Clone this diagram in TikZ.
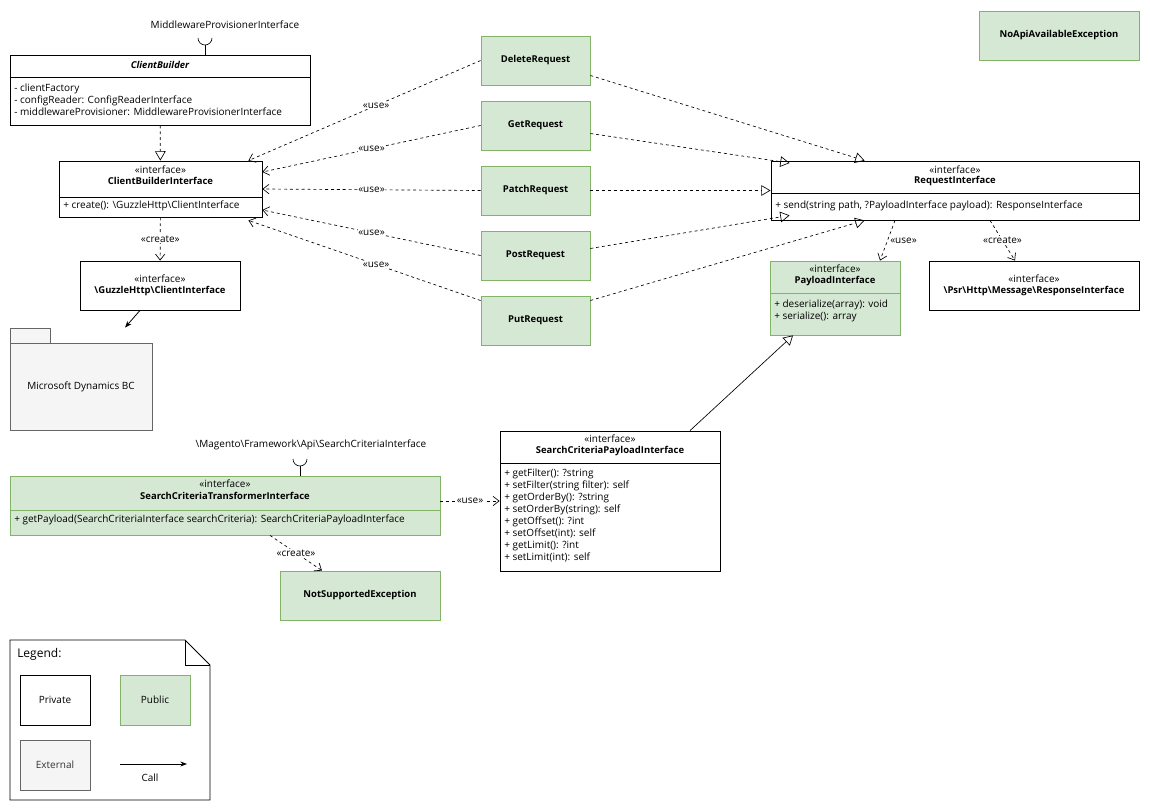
\documentclass[tikz,border=0pt]{standalone}
\usepackage{fontspec}
\setmainfont{Open Sans}
\usetikzlibrary{arrows.meta,calc,positioning}

\tikzset{
  box/.style={draw=black, fill=white, inner sep=0pt, line width=0.6pt},
  pub/.style={draw={rgb,255:red,130;green,179;blue,102}, fill={rgb,255:red,213;green,232;blue,212}, inner sep=0pt, line width=0.6pt},
  ext/.style={draw={rgb,255:red,102;green,102;blue,102}, fill={rgb,255:red,245;green,245;blue,245}, inner sep=0pt, line width=0.6pt},
  txt/.style={font=\fontsize{7.5}{9}\selectfont, inner sep=0pt},
  clsname/.style={font=\fontsize{7.1}{9}\selectfont\bfseries, inner sep=0pt},
  dep/.style={dashed, dash pattern=on 2.2pt off 2.2pt, line width=0.5pt, -{Straight Barb[length=4.5pt,width=7pt]}},
  real/.style={dashed, dash pattern=on 2.2pt off 2.2pt, line width=0.5pt, -{Triangle[open,length=7pt,width=8pt]}},
  gen/.style={line width=0.5pt, -{Triangle[open,length=7pt,width=8pt]}},
  call/.style={line width=0.6pt, -{Stealth[length=5pt]}},
  lbl/.style={txt, fill=white, inner sep=0.5pt}
}

\begin{document}
\begin{tikzpicture}[x=0.75pt,y=0.75pt,yscale=-1,xscale=1]
\useasboundingbox (0,0) rectangle (1150,810);

%Class boxes
\node[box, minimum width=225pt, minimum height=52.5pt] (cb) at (160,90) {};
\node[box, minimum width=152.25pt, minimum height=42pt] (cbi) at (160.5,189) {};
\node[box, minimum width=120pt, minimum height=36.75pt] (guz) at (160,285.5) {};
\node[box, minimum width=276pt, minimum height=44.25pt] (req) at (955,190.5) {};
\node[pub, minimum width=97.5pt, minimum height=55.5pt] (pay) at (835,298) {};
\node[box, minimum width=157.5pt, minimum height=36.75pt] (resp) at (1034,285.5) {};
\node[box, minimum width=165pt, minimum height=105pt] (scp) at (610,501) {};
\node[pub, minimum width=322.5pt, minimum height=44.25pt] (sct) at (225,505.5) {};
\node[pub, minimum width=120pt, minimum height=36.75pt, clsname] (nse) at (360,595.5) {NotSupportedException};
\node[pub, minimum width=120pt, minimum height=36.75pt, clsname] (noapi) at (1059,35.5) {NoApiAvailableException};

%Requests
\foreach \n/\t/\y in {del/DeleteRequest/60.5, get/GetRequest/125.5, pat/PatchRequest/190.5, pos/PostRequest/255.5, put/PutRequest/320.5}
  \node[pub, minimum width=81.75pt, minimum height=36.75pt, clsname] (\n) at (535.5,\y) {\t};

%Dividers
\draw[line width=0.5pt] (10,77) -- (310,77);
\draw[line width=0.4pt] (59,197) -- (262,197);
\draw[line width=0.4pt] (771,193) -- (1139,193);
\draw[line width=0.4pt,draw={rgb,255:red,130;green,179;blue,102}] (770,293) -- (900,293);
\draw[line width=0.4pt] (500,463) -- (720,463);
\draw[line width=0.4pt,draw={rgb,255:red,130;green,179;blue,102}] (10,510) -- (440,510);

%Texts
\node[txt, font=\fontsize{7.1}{9}\selectfont\bfseries\itshape] at (160,65) {ClientBuilder};
\node[txt, anchor=west, align=left] at (14,100) {- clientFactory\\- configReader: ConfigReaderInterface\\- middlewareProvisioner: MiddlewareProvisionerInterface};
\node[txt] at (160.5,170) {«interface»};
\node[clsname] at (160.5,181) {ClientBuilderInterface};
\node[txt, anchor=west] at (63,206) {+ create(): \textbackslash GuzzleHttp\textbackslash ClientInterface};
\node[txt] at (160,279) {«interface»};
\node[clsname] at (160,291) {\textbackslash GuzzleHttp\textbackslash ClientInterface};
\node[txt] at (955,170) {«interface»};
\node[clsname] at (955,181) {RequestInterface};
\node[txt, anchor=west] at (775,206) {+ send(string path, ?PayloadInterface payload): ResponseInterface};
\node[txt] at (835,269) {«interface»};
\node[clsname] at (835,281) {PayloadInterface};
\node[txt, anchor=west, align=left] at (774,311) {+ deserialize(array): void\\+ serialize(): array};
\node[txt] at (1034,279) {«interface»};
\node[clsname] at (1034,291) {\textbackslash Psr\textbackslash Http\textbackslash Message\textbackslash ResponseInterface};
\node[txt] at (610,439) {«interface»};
\node[clsname] at (610,451) {SearchCriteriaPayloadInterface};
\node[txt, anchor=north west, align=left] at (504,469) {+ getFilter(): ?string\\+ setFilter(string filter): self\\+ getOrderBy(): ?string\\+ setOrderBy(string): self\\+ getOffset(): ?int\\+ setOffset(int): self\\+ getLimit(): ?int\\+ setLimit(int): self};
\node[txt] at (225,484) {«interface»};
\node[clsname] at (225,496) {SearchCriteriaTransformerInterface};
\node[txt, anchor=west] at (14,520) {+ getPayload(SearchCriteriaInterface searchCriteria): SearchCriteriaPayloadInterface};

%External package
\draw[ext] (10,328) rectangle (50,343);
\node[ext, minimum width=106.5pt, minimum height=65.25pt, txt] (ms) at (81,386.5) {Microsoft Dynamics BC};

%Lollipops
\draw[line width=0.5pt] (205,55) -- (205,45);
\draw[line width=0.5pt] (198,38) arc (180:0:7 and 7);
\node[txt] at (225,25) {MiddlewareProvisionerInterface};
\draw[line width=0.5pt] (300,476) -- (300,466);
\draw[line width=0.5pt] (293,459) arc (180:0:7 and 7);
\node[txt] at (311,445) {\textbackslash Magento\textbackslash Framework\textbackslash Api\textbackslash SearchCriteriaInterface};

%Connectors
\draw[real] (cb) -- (cbi);
\draw[dep] (cbi) -- node[lbl] {«create»} (guz);
\draw[call] ($(guz.south)+(-20,0)$) -- ($(ms.north)+(44,-15)$);
\draw[dep] (del.west) -- node[lbl, pos=0.45] {«use»} ($(cbi.north east)+(-14,0)$);
\draw[dep] (get.west) -- node[lbl] {«use»} ($(cbi.east)+(0,-17)$);
\draw[dep] (pat.west) -- node[lbl] {«use»} (cbi.east);
\draw[dep] (pos.west) -- node[lbl] {«use»} ($(cbi.east)+(0,21)$);
\draw[dep] ($(put.west)+(0,-20)$) -- node[lbl, pos=0.45] {«use»} ($(cbi.south east)+(-14,3)$);
\draw[real] ($(del.east)+(0,15)$) -- ($(req.north west)+(94,0)$);
\draw[real] ($(get.east)+(0,8)$) -- ($(req.west)+(19,-27.5)$);
\draw[real] (pat.east) -- (req.west);
\draw[real] ($(pos.east)+(0,-7)$) -- ($(req.south west)+(19,-5)$);
\draw[real] ($(put.east)+(0,-20)$) -- ($(req.south west)+(94,0)$);
\draw[dep] ($(req.south)+(-60,0)$) -- node[lbl, pos=0.5, xshift=12] {«use»} ($(pay.north)+(45,0)$);
\draw[dep] ($(req.south)+(35,0)$) -- node[lbl, pos=0.5] {«create»} ($(resp.north)+(-19,0)$);
\draw[gen] ($(scp.north)+(80,0)$) -- ($(pay.south)+(-42,0)$);
\coordinate (a) at (sct.east|-scp.west);
\draw[dep] (a) -- node[lbl] {«use»} (scp.west);
\draw[dep] ($(sct.south)+(45,0)$) -- node[lbl] {«create»} ($(nse.north)+(-38,0)$);

%Legend
\draw[line width=0.6pt] (10,640) -- (185,640) -- (210,665) -- (210,800) -- (10,800) -- cycle;
\draw[line width=0.6pt] (185,640) -- (185,665) -- (210,665);
\node[txt, anchor=west, font=\fontsize{9}{10}\selectfont] at (17,654) {Legend:};
\node[box, minimum width=52.5pt, minimum height=37.5pt, txt] (lpriv) at (55,700) {Private};
\node[pub, minimum width=52.5pt, minimum height=37.5pt, txt] (lpub) at (155,700) {Public};
\node[ext, minimum width=52.5pt, minimum height=37.5pt, txt, text={rgb,255:red,51;green,51;blue,51}] (lext) at (55,765) {External};
\coordinate (ca) at (120,764);
\coordinate (cz) at (187,764);
\draw[call] (ca) -- (cz);
\node[txt] at (150,778) {Call};
\end{tikzpicture}
\end{document}
